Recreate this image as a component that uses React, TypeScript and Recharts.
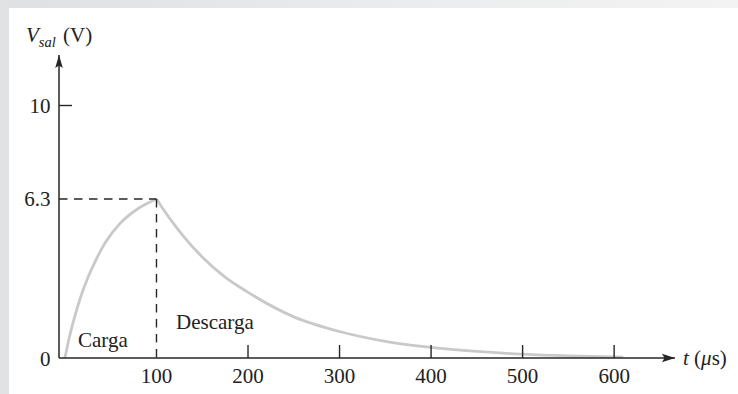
import React from 'react';
import { LineChart, Line, XAxis, YAxis, ReferenceLine, ReferenceDot } from 'recharts';

// Charging phase: output voltage (V) versus time (µs)
const CHARGE_T = [0, 5, 10, 17, 25, 35, 45, 60, 80, 100];
const CHARGE_V = [0, 0.85, 1.55, 2.4, 3.18, 3.97, 4.62, 5.32, 5.92, 6.3];

// Discharging phase
const DISCHARGE_T = [100, 115, 130, 150, 175, 200, 250, 300, 350, 400, 450, 500, 550, 610];
const DISCHARGE_V = [6.3, 5.5, 4.8, 4.0, 3.2, 2.6, 1.63, 1.05, 0.66, 0.42, 0.26, 0.15, 0.08, 0.03];

const X_TICKS = [100, 200, 300, 400, 500, 600];
const Y_TICKS = [0, 6.3, 10];

const PEAK_T = 100;
const PEAK_V = 6.3;

const T_DOMAIN: [number, number] = [-6.5, 666.5];
const V_DOMAIN: [number, number] = [0, 12];

// Phase captions, anchored in data units (start of text, baseline)
const CHARGE_CAPTION = { t: 14.3, v: 0.45, text: 'Carga' };
const DISCHARGE_CAPTION = { t: 121.3, v: 1.13, text: 'Descarga' };

const chargeData = CHARGE_T.map((t, i) => ({ t, v: CHARGE_V[i] }));
const dischargeData = DISCHARGE_T.map((t, i) => ({ t, v: DISCHARGE_V[i] }));

const W = 738;
const H = 394;
const INK = '#262626';
const CURVE = '#c9c9c9';
const FONT = '"Liberation Serif", "Times New Roman", Times, serif';
const FS = 21;

function TimeTick(props: any) {
  const { x, y, payload } = props;
  const v = payload.value;
  return (
    <g>
      {v !== PEAK_T && (
        <line x1={x} y1={y} x2={x} y2={y - 13} stroke={INK} strokeWidth={1.4} />
      )}
      <text x={x} y={y + 24.5} textAnchor="middle" fontFamily={FONT} fontSize={FS} fill="#222">
        {v}
      </text>
    </g>
  );
}

function VoltTick(props: any) {
  const { x, y, payload } = props;
  const v = payload.value;
  return (
    <g>
      {v !== 0 && v !== PEAK_V && (
        <line x1={x} y1={y} x2={x + 13} y2={y} stroke={INK} strokeWidth={1.4} />
      )}
      <text x={x - 8.5} y={y + 7.5} textAnchor="end" fontFamily={FONT} fontSize={FS} fill="#222">
        {v}
      </text>
    </g>
  );
}

function VoltTitle(props: any) {
  const vb = props.viewBox || {};
  const x0 = vb.x + vb.width;
  const y0 = vb.y;
  return (
    <g>
      <polygon
        points={`${x0},${y0} ${x0 + 3.8},${y0 + 13} ${x0},${y0 + 10.5} ${x0 - 3.8},${y0 + 13}`}
        fill={INK}
      />
      <text x={26} y={42} fontFamily={FONT} fontSize={FS} fill="#222">
        <tspan fontStyle="italic">V</tspan>
        <tspan fontStyle="italic" fontSize={14.5} dy={5}>sal</tspan>
      </text>
      <text x={63} y={42} fontFamily={FONT} fontSize={FS} fill="#222">(V)</text>
    </g>
  );
}

function TimeTitle(props: any) {
  const vb = props.viewBox || {};
  const x1 = vb.x + vb.width;
  const y1 = vb.y;
  return (
    <g>
      <polygon
        points={`${x1},${y1} ${x1 - 13},${y1 - 4.2} ${x1 - 10.5},${y1} ${x1 - 13},${y1 + 4.2}`}
        fill={INK}
      />
      <text x={x1 + 8} y={y1 + 6.5} fontFamily={FONT} fontSize={FS} fill="#222">
        <tspan fontStyle="italic">t</tspan>
        <tspan> (</tspan>
        <tspan fontStyle="italic">μ</tspan>
        <tspan>s)</tspan>
      </text>
    </g>
  );
}

function caption(text: string) {
  return (p: any) => (
    <text x={p.cx} y={p.cy} fontFamily={FONT} fontSize={FS} fill="#222">
      {text}
    </text>
  );
}

export default function App() {
  return (
    <div
      style={{
        position: 'absolute',
        left: 0,
        top: 0,
        width: W,
        height: H,
        background: '#ffffff',
        overflow: 'hidden',
      }}
    >
      <div
        style={{
          position: 'absolute',
          left: 0,
          top: 0,
          width: W,
          height: 8,
          background: 'linear-gradient(to right, #dfe0e2, #ebeced 55%, #f3f3f3)',
        }}
      />
      <div
        style={{ position: 'absolute', left: 0, top: 0, width: 9, height: H, background: '#e1e2e4' }}
      />
      <div style={{ position: 'absolute', left: 0, top: 0 }}>
        <LineChart width={W} height={H} margin={{ top: 55, right: 63, bottom: 6, left: 9 }}>
          <XAxis
            type="number"
            dataKey="t"
            domain={T_DOMAIN}
            allowDataOverflow
            ticks={X_TICKS}
            interval={0}
            tickSize={0}
            tickMargin={0}
            tickLine={false}
            tick={<TimeTick />}
            axisLine={{ stroke: INK, strokeWidth: 1.5 }}
            height={30}
            label={<TimeTitle />}
          />
          <YAxis
            type="number"
            domain={V_DOMAIN}
            allowDataOverflow
            ticks={Y_TICKS}
            interval={0}
            tickSize={0}
            tickMargin={0}
            tickLine={false}
            tick={<VoltTick />}
            axisLine={{ stroke: INK, strokeWidth: 1.5 }}
            width={50}
            label={<VoltTitle />}
          />
          <Line
            data={chargeData}
            dataKey="v"
            type="monotone"
            stroke={CURVE}
            strokeWidth={2.8}
            dot={false}
            activeDot={false}
            isAnimationActive={false}
          />
          <Line
            data={dischargeData}
            dataKey="v"
            type="monotone"
            stroke={CURVE}
            strokeWidth={2.8}
            dot={false}
            activeDot={false}
            isAnimationActive={false}
          />
          <ReferenceLine
            segment={[
              { x: T_DOMAIN[0], y: PEAK_V },
              { x: PEAK_T, y: PEAK_V },
            ]}
            stroke={INK}
            strokeWidth={1.4}
            strokeDasharray="8.5 6.5"
            ifOverflow="visible"
          />
          <ReferenceLine
            segment={[
              { x: PEAK_T, y: PEAK_V },
              { x: PEAK_T, y: 0 },
            ]}
            stroke={INK}
            strokeWidth={1.4}
            strokeDasharray="8.5 6.5"
            ifOverflow="visible"
          />
          <ReferenceDot
            x={CHARGE_CAPTION.t}
            y={CHARGE_CAPTION.v}
            r={1}
            shape={caption(CHARGE_CAPTION.text)}
          />
          <ReferenceDot
            x={DISCHARGE_CAPTION.t}
            y={DISCHARGE_CAPTION.v}
            r={1}
            shape={caption(DISCHARGE_CAPTION.text)}
          />
        </LineChart>
      </div>
    </div>
  );
}
